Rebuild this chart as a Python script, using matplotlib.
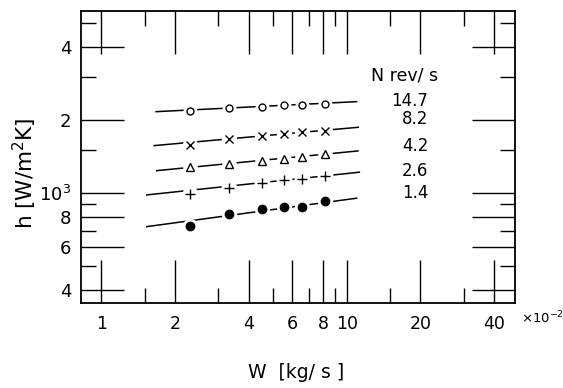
import matplotlib
matplotlib.use("Agg")
import matplotlib.pyplot as plt
import numpy as np

# flow rate W (x 10^-2 kg/s) at which h was measured
w_pts = [2.3, 3.3, 4.5, 5.55, 6.6, 8.15]

# impeller speed N [rev/s] -> measured h [W/m2K]
speeds = ["14.7", "8.2", "4.2", "2.6", "1.4"]
h_147 = [2178, 2234, 2268, 2298, 2305, 2320]
h_82 = [1579, 1666, 1724, 1752, 1781, 1803]
h_42 = [1279, 1319, 1353, 1383, 1413, 1446]
h_26 = [993, 1048, 1105, 1134, 1142, 1181]
h_14 = [734, 820, 862, 876, 881, 930]

# end points of the fitted straight lines (log-log)
fit_w = [[1.67, 10.98], [1.64, 11.15], [1.68, 11.12], [1.53, 11.26], [1.53, 10.98]]
fit_h = [[2163, 2378], [1569, 1866], [1238, 1492], [984, 1220], [729, 954]]

series = [h_147, h_82, h_42, h_26, h_14]
markers = [("o", 5.0, "white"), ("x", 6.0, "black"), ("^", 5.5, "white"),
           ("+", 6.5, "black"), ("o", 6.0, "black")]

x_major = [1, 2, 4, 6, 8, 10, 20, 40]
x_minor = [1.5, 3, 5, 7, 9, 15, 30]
y_major = [400, 600, 800, 1000, 2000, 4000]
y_major_lbl = ["4", "6", "8", "10$^3$", "2", "4"]
y_minor = [500, 700, 900, 1500, 3000, 5000]

fig = plt.figure(figsize=(5.63, 3.88), dpi=100)
ax = fig.add_axes([0.1439, 0.2191, 0.7709, 0.7513])
ax.set_xscale("log")
ax.set_yscale("log")
ax.set_xlim(0.825, 48.6)
ax.set_ylim(354, 5580)

for i, hs in enumerate(series):
    ax.plot(fit_w[i], fit_h[i], color="black", lw=1.1, zorder=2)
    m, ms, fc = markers[i]
    # white halo so the line looks broken around each point
    ax.plot(w_pts, hs, ls="none", marker="o", ms=ms + 4, mfc="white",
            mec="white", zorder=3)
    ax.plot(w_pts, hs, ls="none", marker=m, ms=ms, mfc=fc, mec="black",
            mew=1.0, zorder=4)

ax.set_xticks(x_major)
ax.set_xticklabels([str(v) for v in x_major])
ax.set_xticks(x_minor, minor=True)
ax.set_xticklabels([], minor=True)
ax.set_yticks(y_major)
ax.set_yticklabels(y_major_lbl)
ax.set_yticks(y_minor, minor=True)
ax.set_yticklabels([], minor=True)

ax.tick_params(which="both", direction="in", top=True, right=True, width=1.0)
ax.tick_params(which="major", length=31)
ax.tick_params(which="minor", length=11)
ax.tick_params(axis="x", which="major", labelsize=12.5, pad=9)
ax.tick_params(axis="y", which="major", labelsize=13, pad=7)
for s in ax.spines.values():
    s.set_linewidth(1.3)

ax.text(0.7465, 0.781, "N rev/ s", transform=ax.transAxes, ha="center",
        va="center", fontsize=12.5)
y_txt = [0.693, 0.630, 0.540, 0.453, 0.379]
for lbl, yy in zip(speeds, y_txt):
    ax.text(0.80, yy, lbl, transform=ax.transAxes, ha="right", va="center",
            fontsize=12)

fig.text(521 / 563, 1 - 318 / 388, r"$\times10^{-2}$", ha="left",
         va="center", fontsize=9.5)
fig.text(296 / 563, 1 - 373 / 388, "W  [kg/ s ]", ha="center", va="center",
         fontsize=13.5)
fig.text(25 / 563, 1 - 173 / 388, "h [W/m$^2$K]", ha="center", va="center",
         rotation=90, fontsize=15.5)

fig.savefig("out.png", dpi=100)
